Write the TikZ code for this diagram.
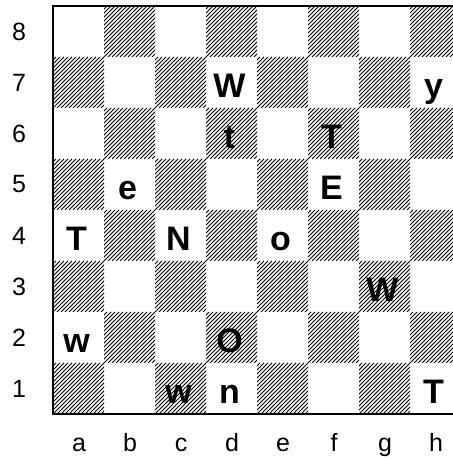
\documentclass[tikz,border=0pt]{standalone}
\usepackage{fontspec}
\setmainfont{Liberation Sans}
\begin{document}
\begin{tikzpicture}[x=1pt,y=1pt,
  hatchline/.style={line width=0.75pt},
  coordlabel/.style={font=\fontsize{25}{25}\selectfont},
  piece/.style={font=\fontsize{34}{34}\selectfont\bfseries,anchor=base}]
  \useasboundingbox (0,0) rectangle (453,459);
  \clip (0,0) rectangle (453,459);
  % dark squares (hatched)
  \foreach \f in {1,...,8}
    \foreach \r in {1,...,8}{
      \pgfmathparse{int(mod(\f+\r,2))}
      \ifnum\pgfmathresult=0
        \begin{scope}
          \clip ({2+51*\f},{-6+51*\r}) rectangle +(51,51);
          \foreach \k in {-13,...,13}
            \draw[hatchline] ({2+51*\f+4*\k},{-6+51*\r}) -- +(51,51);
        \end{scope}
      \fi}
  % board frame (right edge runs off the picture)
  \draw[line width=2.4pt] (461,453) -- (53,453) -- (53,45) -- (461,45);
  % rank and file labels
  \foreach \r in {1,...,8}
    \node[coordlabel] (rank\r) at (19,{19.5+51*\r}) {\r};
  \foreach \f/\n in {1/a,2/b,3/c,4/d,5/e,6/f,7/g,8/h}
    \node[coordlabel,anchor=base] (file\n) at ({28+51*\f},7) {\n};
  % letters on the squares
  \foreach \f/\r/\p in {4/7/W,8/7/y,4/6/t,6/6/T,2/5/e,6/5/E,1/4/T,3/4/N,
                        5/4/o,7/3/W,1/2/w,4/2/O,3/1/w,4/1/n,8/1/T}
    \node[piece] (sq\f\r) at ({25.5+51*\f},{4.5+51*\r}) {\p};
\end{tikzpicture}
\end{document}
